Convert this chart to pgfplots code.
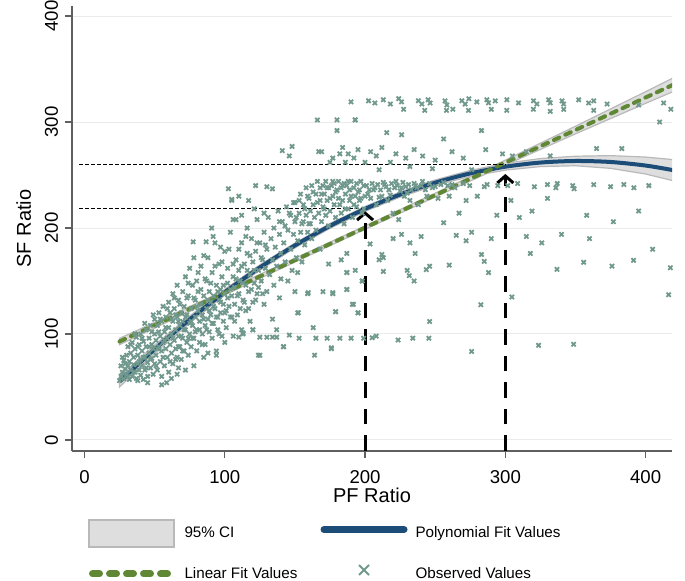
\documentclass[border=0pt]{standalone}
\usepackage{pgfplots}
\pgfplotsset{compat=1.18}
\usepackage{fontspec}
\setmainfont{Liberation Sans}
\usetikzlibrary{arrows.meta}

\definecolor{obs}{RGB}{112,152,140}
\definecolor{polyc}{RGB}{28,76,120}
\definecolor{linc}{RGB}{96,136,52}
\definecolor{cifill}{RGB}{222,222,222}
\definecolor{ciline}{RGB}{185,185,185}
\definecolor{axisgray}{RGB}{95,95,95}

\begin{document}
\begin{tikzpicture}
\begin{axis}[
 scale only axis, width=300pt, height=222.5pt,
 xmin=-8.9, xmax=418.8, ymin=-10.4, ymax=409.5,
 axis x line=bottom, axis y line=left,
 axis line style={axisgray, line width=0.6pt, -},
 xtick={0,100,200,300,400}, ytick={0,100,200,300,400},
 tick style={axisgray, line width=0.6pt},
 tick align=outside, major tick length=3.5pt,
 ymajorgrids, grid style={black!8, line width=0.5pt},
 /pgf/number format/assume math mode=true,
 ticklabel style={font=\fontsize{9.3}{10}\selectfont},
 xticklabel style={yshift=-2.5pt},
 yticklabel style={rotate=90, anchor=south},
 xlabel={PF Ratio}, ylabel={SF Ratio},
 label style={font=\fontsize{10}{12}\selectfont},
 xlabel style={yshift=4.5pt},
 legend columns=2,
 legend cell align=left,
 legend style={at={(axis description cs:0.0267,-0.1528)}, anchor=north west,
   draw=none, fill=none, inner sep=0pt, outer sep=0pt,
   nodes={inner sep=0pt, font=\fontsize{7.6}{9}\selectfont},
   row sep=6pt,
   /tikz/every odd column/.append style={column sep=4pt}},
]
\coordinate (SW) at (rel axis cs:0,0);

% legend images
\addlegendimage{legend image code/.code={\path[draw=none,fill=none] (0pt,-7pt) rectangle (43pt,7pt); \draw[fill=cifill, draw=ciline, line width=1pt] (0pt,-6.75pt) rectangle (42.5pt,6.75pt);}}
\addlegendentry{\makebox[68pt][l]{95\% CI}}
\addlegendimage{legend image code/.code={\path[draw=none,fill=none] (0pt,-7pt) rectangle (43pt,7pt); \draw[polyc, line width=3.5pt, line cap=round] (1.5pt,2pt) -- (41.5pt,2pt);}}
\addlegendentry{Polynomial Fit Values}
\addlegendimage{legend image code/.code={\path[draw=none,fill=none] (0pt,-7pt) rectangle (43pt,7pt); \draw[linc, line width=3.5pt, line cap=round, dash pattern=on 3.5pt off 5pt] (1.75pt,0pt) -- (42pt,0pt);}}
\addlegendentry{\makebox[68pt][l]{Linear Fit Values}}
\addlegendimage{legend image code/.code={\path[draw=none,fill=none] (0pt,-7pt) rectangle (43pt,7pt); \draw[obs, line width=1pt] (19pt,-0.5pt) -- (24pt,4.5pt) (19pt,4.5pt) -- (24pt,-0.5pt);}}
\addlegendentry{Observed Values}

% observed values
\addplot[only marks, mark=x, mark size=1.5pt, mark options={obs, line width=0.9pt}, forget plot] coordinates {
(25,56)(26,60)(27,64)(26,70)(28,58)(28,75)(29,67)(30,62)(30,80)(31,70)(31,88)(32,57)(32,74)(33,66)(33,82)(34,60)(34,92)(35,71)(35,78)(36,64)(36,86)(37,58)(37,97)(38,72)(38,80)(39,66)(39,90)(40,61)(40,76)(40,100)(41,84)(41,70)(42,57)(42,93)(43,78)(43,66)(44,88)(44,104)(45,73)(45,60)(46,82)(46,96)(47,68)(47,108)(48,77)(48,90)(49,62)(49,86)(50,100)(50,72)(50,114)
(51,80)(51,94)(52,66)(52,108)(53,88)(53,120)(54,74)(54,98)(55,60)(55,84)(55,112)(56,92)(56,126)(57,70)(57,102)(58,86)(58,116)(59,78)(59,96)(60,64)(60,106)(60,130)(61,90)(61,120)(62,82)(62,100)(63,72)(63,112)(63,138)(64,94)(64,124)(65,86)(65,104)(66,78)(66,116)(66,146)(67,98)(67,132)(68,88)(68,108)(69,76)(69,120)(70,96)(70,140)(70,112)(71,84)(71,126)(72,104)(72,154)(73,92)(73,118)(74,80)(74,136)(75,100)(75,110)(75,162)
(58.6,54)(55,52)(62,58)(45,54)(38,56)(67,68)(94,80)(124,80)(78,70)(85,78)(66,62)(72,66)(88,82)(100,92)
(27,78)(29,72)(31,60)(33,90)(35,64)(36,100)(38,88)(39,74)(41,96)(42,78)(43,110)(44,68)(46,88)(47,76)(48,102)(49,118)(51,70)(52,86)(53,102)(54,114)(56,78)(57,94)(58,106)(59,124)(61,74)(62,114)(63,96)(64,134)(65,76)(65,118)(67,88)(67,112)(68,128)(69,98)(70,84)(71,104)(72,116)(73,134)(74,96)(74,148)
(76,88)(76,124)(77,108)(77,146)(78,96)(78,172)(79,116)(79,132)(80,84)(80,104)(80,150)(81,122)(81,140)(82,92)(82,112)(83,128)(83,164)(84,100)(84,118)(85,136)(85,174)(86,108)(86,90)(87,124)(87,150)(88,114)(88,172)(89,102)(89,140)(90,130)(90,118)(91,96)(91,158)(92,110)(92,136)(93,124)(93,186)(94,84)(94,146)(95,116)(95,104)(96,132)(96,166)(97,120)(97,142)(98,98)(98,154)(99,112)(99,128)(100,138)(100,178)(100,120)
(76,112)(77,96)(78,134)(79,102)(80,126)(81,158)(82,104)(83,142)(84,90)(85,114)(86,152)(87,104)(88,132)(89,122)(90,148)(91,110)(92,126)(93,164)(94,116)(95,140)(96,100)(97,130)(98,168)(99,146)(101,122)(102,134)(103,180)(104,142)(105,116)(106,166)(107,112)(108,152)(109,136)(110,180)(111,124)(112,164)(113,148)(114,130)(115,192)(116,160)(117,124)(118,174)(119,142)(121,160)(122,132)(123,186)(124,144)(126,172)(127,138)(129,184)
(101,106)(102,148)(102,162)(103,126)(104,116)(104,196)(105,136)(105,226)(106,98)(106,154)(107,144)(107,128)(108,170)(108,208)(109,118)(110,138)(110,160)(111,150)(112,104)(112,186)(113,132)(113,100)(114,166)(115,146)(115,122)(116,176)(116,200)(117,140)(118,156)(118,112)(119,190)(120,130)(120,104)(120,168)(121,148)(122,178)(122,240)(123,208)(123,138)(124,160)(125,97)(125,186)(125,80)(126,150)(127,170)(128,128)(128,196)(129,162)(130,97)(130,140)(130,180)(130,239)
(102.6,237)(105,227)(110,230)(117,226)(121,218)(128,214)(90.7,200)(77.5,187)(86.7,187)(91.7,192)(97,182)(106,208)(112,212)
(131,210)(132,156)(133,190)(134,114)(134,170)(134,237)(135,200)(135,146)(136,182)(137,97)(137,104)(137,164)(138,216)(139,194)(139,134)(140,176)(140,152)(141,206)(141,273)(142,88)(142,186)(143,168)(144,220)(145,198)(145,150)(146,99)(146,268)(147,180)(147,212)(148,160)(148,277)(149,194)(150,224)(150,140)(150,206)(151,172)(152,188)(152,120)(153,214)(153,96)(154,232)(154,196)(155,168)(156,206)(156,222)(157,184)(158,238)(158,212)(159,138)(159,196)(160,228)(160,204)(161,216)(162,190)(162,240)(163,106)(163,222)(164,210)(164,80)(165,96)(165,232)(165,198)
(139,206)(143,202)(146,214)(149,224)(151,210)(153,226)(155,204)(157,218)(159,230)(161,204)(163,234)(166,224)(169,232)(171,218)(173,238)(175,228)(177,244)(179,234)(182,222)(184,240)(186,218)(188,244)(190,230)(192,222)(195,234)(197,228)(199,218)(202,232)(206,236)(210,229)(214,241)(218,231)(222,244)(226,238)(230,233)(236,240)(241,244)(248,238)(256,243)(262,241)
(152.5,120)(159.5,139)(170,140)(177,139)(179,121)(187,142)(191.7,128)(195,120)(187,158)(198,150)(152,158)(168,180)(187,176)(174,166)(183,170)(113,101)(120,104)(110,97)(134,97)(141.8,88)(176,87)(193,160)
(166,302)(166,244)(167,214)(167,272)(168,226)(168,238)(169,206)(169,272)(170,240)(170,220)(171,232)(172,212)(172,244)(173,96)(173,226)(174,238)(174,202)(175,216)(175,262)(176,240)(176,86)(177,138)(177,266)(177,230)(178,222)(178,242)(179,121)(179,210)(180,236)(180,302)(180,292)(181,244)(181,228)(182,96)(182,270)(183,214)(183,238)(184,226)(184,276)(185,242)(185,204)(186,232)(186,262)(187,142)(187,158)(187,240)(188,218)(188,270)(189,236)(189,226)(190,96)(190,319)(190,244)(191,128)(191,210)(192,238)(192,266)(193,302)(193,230)(194,242)(194,220)(195,120)(195,274)(196,236)(196,226)(197,244)(198,150)(198,214)(199,96)(199,240)(200,230)(200,262)
(202.5,320)(207,318)(213,321)(218,317)(224,322)(226,319)(227.5,312)(238,320)(240.5,317)(242.6,311)(245,321)(246.4,318)(257,320)(258,311)(258.3,316)(262.6,312)(269,320)(271.4,317)(273.7,311)(274,322)(279.7,319)(286.8,321)(288,318)(290,312)(292.8,320)
(215.5,290)(204,272)(208,268)(212,276)(218,262)(222,270)(229,266)(235,274)(241,268)(250,264)(256,284)(262,272)(270,266)(283,292)(286,274)(298,270)(210,255)(232,258)(248,256)(276,255)(193,302)(226,288)
(201,240)(203,236)(205,242)(207,238)(209,241)(211,236)(213,243)(215,239)(217,236)(219,242)(221,238)(223,240)(225,235)(227,243)(229,239)(231,241)(233,236)(235,242)(237,238)(240,240)(243,236)(246,242)(250,239)(254,241)(259,240)(264,238)(270,242)(274.6,240)(285,239)(287,241)(294.6,240)
(204,228)(208,222)(212,230)(216,226)(220,214)(224,208)(228,230)(232,226)(238,222)(244,230)(252,228)(260,230)(267,214)(272,226)(280,230)(294,212)(256,205)
(203.6,185)(212,175)(213,172)(235.7,176)(283,175)(285,168.5)(213,159)(231.5,155)(230,160)(235,150)(243.6,160.7)(246,164)(220,190)(226,194)(232,186)(240,192)(265,193)(272,188)(276,196)(290,190)(304.7,134.9)(282.6,127.6)(246,111.8)(205,96.5)(208,98)(223.6,94.3)(234,96)(245.5,96)(276,83.5)(210,170)(260,165)(288,158)
(301.1,321)(309.4,318)(320.1,320)(322.5,317)(330.8,321)(332,318)(340.4,320)(341.6,317)(352.3,321)(359.4,318)(363,320)(372.5,317)(412.8,318)(301,311)(320,312)(332,310)(341.6,312)(363,311)(395,316)(410,300)(418,312)
(317.8,176)(323.7,89.3)(348.7,90.3)(336.8,161)(355.8,167.6)(376,164)(391.4,169.5)(416.4,137)(417.6,162.5)
(301.7,240)(308.8,242)(320.7,239)(330,241)(336,238)(337,242)(348,240)(349,237)(363,241)(375,239)(384.5,241)(391.6,238)(402.3,240)
(305,268)(315,272)(332,268)(365,275)(383,275)(304,226)(310,210)(319,216)(330,228)(358,212)(315,192)(326,186)(340,194)(377,206)(395,216)(360,190)(405,180)
};

% confidence bands
\addplot[fill=cifill, draw=ciline, line width=0.6pt, forget plot] coordinates {
(25,60.0)(50,89.55)(75,116.98)(100,142.19)(125,165.18)(150,185.84)(175,204.28)(200,220.3)(225,234.0)(250,245.37)(275,254.32)(300,261.05)(325,265.56)(350,267.74)(375,268.3)(400,266.94)(420,264.5)
(420,244.5)(400,250.94)(375,256.3)(350,258.74)(325,257.96)(300,254.65)(275,248.72)(250,240.17)(225,229.2)(200,215.7)(175,199.68)(150,181.24)(125,160.18)(100,136.59)(75,110.38)(50,81.55)(25,50.0)} -- cycle;
\addplot[fill=cifill, draw=ciline, line width=0.6pt, forget plot] coordinates {
(25,95.9)(100,140.95)(150,171.45)(200,201.95)(250,232.85)(300,264.05)(350,296.05)(400,328.65)(420,341.93)
(420,328.93)(400,317.65)(350,288.85)(300,259.45)(250,229.25)(200,198.75)(150,167.85)(100,136.95)(25,89.9)} -- cycle;

% fitted lines
\addplot[polyc, line width=2pt, smooth, forget plot] coordinates {
(25,55.0)(50,85.55)(75,113.68)(100,139.39)(125,162.68)(150,183.54)(175,201.98)(200,218.0)(225,231.6)(250,242.77)(275,251.52)(300,257.85)(325,261.76)(350,263.24)(375,262.3)(400,258.94)(420,254.5)};
\addplot[linc, line width=2pt, line cap=round, dash pattern=on 3pt off 3.3pt, forget plot] coordinates {
(25,92.9)(420,335.43)};

% reference lines
\addplot[black, line width=0.5pt, dash pattern=on 2pt off 1pt, forget plot] coordinates {(-4,218) (200,218)};
\addplot[black, line width=0.5pt, dash pattern=on 2pt off 1pt, forget plot] coordinates {(-4,260) (300,260)};
\addplot[black, line width=1.5pt, dash pattern=on 7.75pt off 5.5pt, -{Straight Barb[length=3.5pt,width=8pt]}, forget plot] coordinates {(200,-10.4) (200,216)};
\addplot[black, line width=1.5pt, dash pattern=on 7.75pt off 5.5pt, -{Straight Barb[length=3.5pt,width=8pt]}, forget plot] coordinates {(300,-10.4) (300,251)};
\end{axis}
\pgfresetboundingbox
\path (SW) ++(-36pt,-65pt) rectangle ++(342.5pt,290.5pt);
\end{tikzpicture}
\end{document}
